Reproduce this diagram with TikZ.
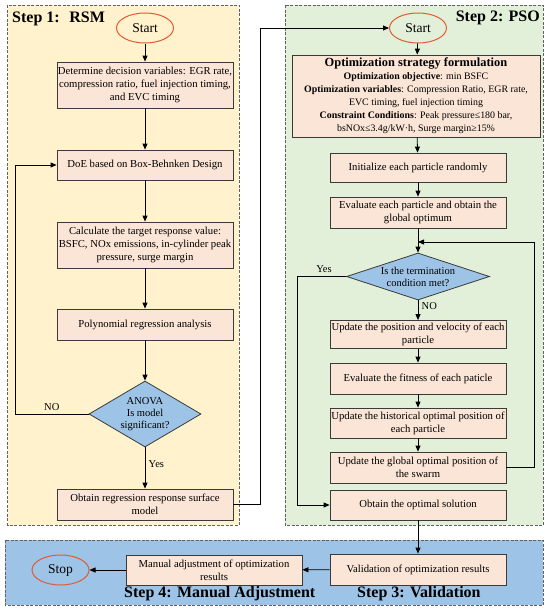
\documentclass[tikz,border=0pt]{standalone}
\usepackage{fontspec}
\setmainfont{Liberation Serif}
\usetikzlibrary{arrows.meta,shapes.geometric}
\definecolor{yel}{HTML}{FFF2CC}
\definecolor{grn}{HTML}{E2F0D9}
\definecolor{blu}{HTML}{9DC3E6}
\definecolor{pch}{HTML}{FBE5D6}
\definecolor{redo}{HTML}{E05A33}
\definecolor{brd}{HTML}{3A3A3A}
\tikzset{
  stepframe/.style={draw=brd!80, line width=1pt, dash pattern=on 3pt off 1.5pt},
  procbox/.style={draw=brd, fill=pch, line width=0.8pt, minimum width=176pt, align=center, inner xsep=0pt, inner ysep=2pt, font=\fontsize{10.7}{13}\selectfont},
  termnode/.style={ellipse, draw=redo, line width=1pt, minimum width=57pt, minimum height=30pt, inner sep=0pt, font=\fontsize{13.5}{15}\selectfont},
  dia/.style={diamond, draw=brd, fill=blu, line width=0.8pt, inner sep=0pt},
  diatext/.style={align=center, font=\fontsize{10.5}{12}\selectfont},
  lbl/.style={font=\fontsize{10.5}{12}\selectfont},
  steptitle/.style={font=\fontsize{16}{18}\selectfont\bfseries, inner sep=0pt},
  conn/.style={draw=black, line width=0.8pt, -{Triangle[length=6pt,width=5pt]}},
}
\begin{document}
\begin{tikzpicture}[x=1pt,y=-1pt]
\useasboundingbox (0,0) rectangle (550,613);
% containers
\path[stepframe, fill=yel] (7.5,5) rectangle (239,525);
\path[stepframe, fill=grn] (285,5) rectangle (543,525);
\path[stepframe, fill=blu] (5,540) rectangle (543,605);
\node[steptitle, anchor=west] (t1) at (12,19) {Step 1:\hspace{0.6em}RSM};
\node[steptitle, anchor=east] (t2) at (540,18) {Step 2: PSO};
\node[steptitle, anchor=west] (t4) at (124,594) {Step 4: Manual Adjustment};
\node[steptitle, anchor=west] (t3) at (357,594) {Step 3: Validation};
% left column
\node[termnode] (s1) at (145,28) {Start};
\node[procbox, minimum height=46pt] (b1) at (145,85) {Determine decision variables: EGR rate,\\compression ratio, fuel injection timing,\\and EVC timing};
\node[procbox, minimum height=30pt] (b2) at (145,165) {DoE based on Box-Behnken Design};
\node[procbox, minimum height=46pt] (b3) at (145,245) {Calculate the target response value:\\BSFC, NOx emissions, in-cylinder peak\\pressure, surge margin};
\node[procbox, minimum height=31pt] (b4) at (145,324.5) {Polynomial regression analysis};
\node[dia, minimum width=112pt, minimum height=66pt] (d1) at (145,414) {};
\node[diatext] (d1t) at (145,414) {ANOVA\\Is model\\significant?};
\node[procbox, minimum height=31pt] (b5) at (145,504.5) {Obtain regression response surface\\model};
% right column
\node[termnode] (s2) at (418,28) {Start};
\node[procbox, minimum width=248pt, minimum height=82pt, font=\fontsize{9.9}{13}\selectfont] (o1) at (416,96) {{\fontsize{12.4}{13.5}\selectfont\bfseries Optimization strategy formulation}\\\textbf{Optimization objective}: min BSFC\\\textbf{Optimization variables}: Compression Ratio, EGR rate,\\EVC timing, fuel injection timing\\\textbf{Constraint Conditions}: Peak pressure≤180 bar,\\bsNOx≤3.4g/kW·h, Surge margin≥15\%};
\node[procbox, minimum height=29pt] (p1) at (418,167.5) {Initialize each particle randomly};
\node[procbox, minimum height=31pt] (p2) at (418,212.5) {Evaluate each particle and obtain the\\global optimum};
\node[dia, minimum width=143pt, minimum height=47pt] (d2) at (418,276.5) {};
\node[diatext] (d2t) at (418,276.5) {Is the termination\\condition met?};
\node[procbox, minimum height=28pt] (p3) at (418,334.5) {Update the position and velocity of each\\particle};
\node[procbox, minimum height=31pt] (p4) at (418,378.5) {Evaluate the fitness of each paticle};
\node[procbox, minimum height=30pt] (p5) at (418,423) {Update the historical optimal position of\\each particle};
\node[procbox, minimum height=31pt] (p6) at (418,467.5) {Update the global optimal position of\\the swarm};
\node[procbox, minimum height=30pt] (p7) at (418,505) {Obtain the optimal solution};
% bottom band
\node[procbox, minimum height=31pt] (v1) at (418,569.5) {Validation of optimization results};
\node[procbox, minimum height=30pt] (m1) at (214,570) {Manual adjustment of optimization\\results};
\node[termnode] (st) at (60.5,570) {Stop};
% junction coordinates
\coordinate (jn) at (418,242);
% connectors left
\draw[conn] (s1) -- (b1);
\draw[conn] (b1) -- (b2);
\draw[conn] (b2) -- (b3);
\draw[conn] (b3) -- (b4);
\draw[conn] (b4) -- (d1);
\draw[conn] (d1) -- node[lbl, right, pos=0.4] {Yes} (b5);
\draw[conn] (d1.west) -- node[lbl, above, pos=0.5] {NO} (15,414) -- (15,165) -- (b2.west);
\draw[conn] (b5.east) -- (260,504.5) -- (260,28) -- (s2.west);
% connectors right
\draw[conn] (s2) -- (o1);
\draw[conn] (o1) -- (p1);
\draw[conn] (p1) -- (p2);
\draw[conn] (p2) -- (d2);
\draw[conn] (d2) -- node[lbl, right, pos=0.3] {NO} (p3);
\draw[conn] (p3) -- (p4);
\draw[conn] (p4) -- (p5);
\draw[conn] (p5) -- (p6);
\draw[conn] (p6.east) -- (534,467.5) -- (534,242) -- (jn);
\draw[conn] (d2.west) -- node[lbl, above, pos=0.45] {Yes} (297,276.5) -- (297,505) -- (p7.west);
\draw[conn] (p7) -- (v1);
\draw[conn] (v1) -- (m1);
\draw[conn] (m1) -- (st);
\end{tikzpicture}
\end{document}
